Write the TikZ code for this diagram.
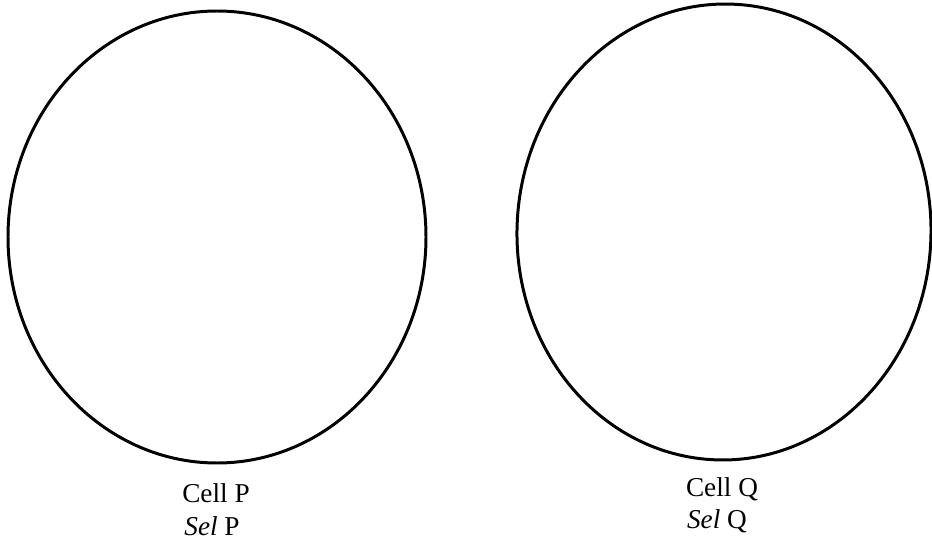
\documentclass[tikz,border=0pt]{standalone}
\usepackage{fontspec}
\setmainfont{Liberation Serif}
\usetikzlibrary{shapes.geometric}

\begin{document}
\begin{tikzpicture}[
      every node/.style={font=\fontsize{15.5}{18}\selectfont},
      cellshape/.style={
        ellipse, draw, line width=1.7pt, inner sep=0pt
      },
      celllabel/.style={anchor=base, inner sep=0pt}
    ]
    \useasboundingbox (0,0) rectangle (18.64,11.02);

    % ===== The two cells =====
    \node[cellshape, minimum width=8.36cm, minimum height=9.04cm] (cellP) at (4.34, 6.28) {};
    \node[cellshape, minimum width=8.28cm, minimum height=9.12cm, rotate=-2] (cellQ) at (14.48, 6.38) {};

    % ===== Labels under the cells =====
    \node[celllabel] (nameP) at (4.32, 0.98) {Cell P};
    \node[celllabel] (selP) at (4.24, 0.32) {\textit{Sel} P};
    \node[celllabel] (nameQ) at (14.44, 1.10) {Cell Q};
    \node[celllabel] (selQ) at (14.34, 0.46) {\textit{Sel} Q};
  \end{tikzpicture}
\end{document}
